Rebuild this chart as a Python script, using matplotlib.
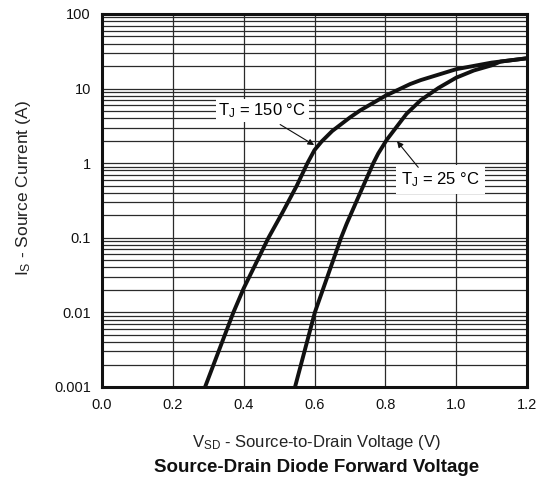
import matplotlib
matplotlib.use("Agg")
import matplotlib.pyplot as plt
from matplotlib.ticker import FixedLocator, LogLocator, NullFormatter

plt.rcParams['font.family'] = ['Liberation Sans', 'DejaVu Sans']
plt.rcParams['mathtext.fontset'] = 'custom'
plt.rcParams['mathtext.rm'] = 'Liberation Sans'
plt.rcParams['mathtext.it'] = 'Liberation Sans'

# Data
v_150 = [0.291, 0.371, 0.400, 0.470, 0.510, 0.550, 0.580, 0.600, 0.620, 0.650, 0.700, 0.729, 0.800, 0.870, 0.900, 1.000, 1.100, 1.200]
i_150 = [0.001, 0.010, 0.021, 0.100, 0.220, 0.500, 1.000, 1.500, 1.950, 2.700, 4.100, 5.100, 8.000, 11.50, 13.00, 18.20, 22.30, 25.50]
v_25 = [0.545, 0.601, 0.675, 0.691, 0.729, 0.766, 0.780, 0.804, 0.860, 0.900, 0.950, 1.000, 1.050, 1.100, 1.125, 1.200]
i_25 = [0.001, 0.010, 0.100, 0.155, 0.400, 1.000, 1.350, 2.060, 4.600, 7.000, 10.20, 14.00, 17.50, 20.50, 23.00, 25.50]

x_ticks = [0.0, 0.2, 0.4, 0.6, 0.8, 1.0, 1.2]
x_tick_labels = ["0.0", "0.2", "0.4", "0.6", "0.8", "1.0", "1.2"]
y_ticks = [0.001, 0.01, 0.1, 1, 10, 100]
y_tick_labels = ["0.001", "0.01", "0.1", "1", "10", "100"]

fig = plt.figure(figsize=(5.36, 4.9), dpi=100)
ax = fig.add_axes([102/536, 1-387/490, 425/536, 373/490])

ax.set_yscale('log')
ax.set_xlim(0, 1.2)
ax.set_ylim(0.001, 100)

ax.xaxis.set_major_locator(FixedLocator(x_ticks))
ax.set_xticklabels(x_tick_labels)
ax.yaxis.set_major_locator(FixedLocator(y_ticks))
ax.set_yticklabels(y_tick_labels)
ax.yaxis.set_minor_locator(LogLocator(base=10, subs=range(2, 10), numticks=20))
ax.yaxis.set_minor_formatter(NullFormatter())

gc = '#2a2a2a'
ax.grid(True, which='major', axis='both', color=gc, linewidth=0.9)
ax.grid(True, which='minor', axis='y', color=gc, linewidth=0.9)
ax.tick_params(which='both', length=0, labelsize=10.5, colors='#111111')
ax.tick_params(axis='y', pad=8)
ax.tick_params(axis='x', pad=8)

for s in ax.spines.values():
    s.set_linewidth(2.2)
    s.set_color('#111111')
    s.set_zorder(5)

ax.plot(v_150, i_150, color='#111111', linewidth=2.8, zorder=4,
        solid_capstyle='butt', solid_joinstyle='round')
ax.plot(v_25, i_25, color='#111111', linewidth=2.8, zorder=4,
        solid_capstyle='butt', solid_joinstyle='round')

# labels with arrows
ax.text(0.452, 5.1, 'T$_\\mathrm{J}$ = 150 °C', fontsize=12, ha='center', va='center',
        zorder=6, bbox=dict(boxstyle='square,pad=0.15', fc='white', ec='none'))
ax.annotate('', xy=(0.599, 1.75), xytext=(0.503, 3.3), zorder=6,
            arrowprops=dict(arrowstyle='-|>', color='#111111', lw=0.8,
                            mutation_scale=9, shrinkA=0, shrinkB=0))
ax.text(0.955, 0.60, 'T$_\\mathrm{J}$ = 25 °C', fontsize=12, ha='center', va='center',
        zorder=6, bbox=dict(boxstyle='square,pad=0.3', fc='white', ec='none'))
ax.annotate('', xy=(0.833, 1.97), xytext=(0.893, 0.88), zorder=6,
            arrowprops=dict(arrowstyle='-|>', color='#111111', lw=0.8,
                            mutation_scale=9, shrinkA=0, shrinkB=0))

fig.text(24/536, 1-188/490, 'I$_\\mathrm{S}$ - Source Current (A)', rotation=90,
         ha='center', va='center', fontsize=12.5, color='#222222')
fig.text(316/536, 1-443/490, 'V$_\\mathrm{SD}$ - Source-to-Drain Voltage (V)',
         ha='center', va='center', fontsize=12, color='#222222')
fig.text(317/536, 1-467/490, 'Source-Drain Diode Forward Voltage',
         ha='center', va='center', fontsize=13.5, fontweight='bold', color='#111111')

fig.savefig('out.png', dpi=100, facecolor='white')
